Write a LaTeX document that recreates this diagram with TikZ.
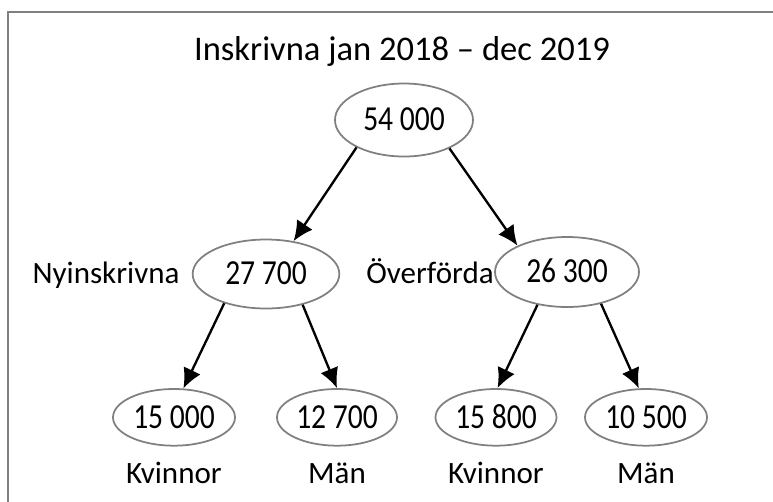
\documentclass[tikz,border=0pt]{standalone}
\usepackage{fontspec}
\setmainfont{Carlito}
\newfontfamily\numfont[FakeStretch=0.84]{Carlito}
\usepackage{tikz}
\usetikzlibrary{shapes.geometric,arrows.meta}

\definecolor{rimgray}{RGB}{128,128,128}

\begin{document}
\begin{tikzpicture}[num/.style={ellipse, draw=rimgray, line width=1.5pt, inner sep=0pt, text height=18.5pt, text depth=0pt, font=\numfont\fontsize{30}{34}\selectfont},
	lbl/.style={inner sep=0pt, anchor=base, font=\fontsize{26.5}{30}\selectfont},
	every edge/.style={draw=black, line width=2pt, -{Latex[length=17pt,width=16pt]}}]
				\useasboundingbox (0,0) rectangle (23.19,-15.03);
				\draw[rimgray, line width=1.2pt] (0.24,-15.1) -- (0.24,-0.36) -- (23.4,-0.36);

				\node[lbl, font=\fontsize{29.5}{34}\selectfont] (title) at (12.06,-1.8) {Inskrivna jan 2018 -- dec 2019};

				\node[num, minimum width=4.14cm, minimum height=2.19cm] (tot) at (12.12,-3.6) {54 000};
				\node[num, minimum width=4.4cm, minimum height=2.07cm] (nyi) at (7.98,-8.22) {27 700};
				\node[num, minimum width=4.32cm, minimum height=2.1cm] (ovf) at (17.01,-8.16) {26 300};
				\node[num, minimum width=3.66cm, minimum height=1.7cm] (nyk) at (5.22,-12.52) {15 000};
				\node[num, minimum width=3.6cm, minimum height=1.7cm] (nym) at (10.11,-12.52) {12 700};
				\node[num, minimum width=3.63cm, minimum height=1.7cm] (ovk) at (14.88,-12.52) {15 800};
				\node[num, minimum width=3.66cm, minimum height=1.7cm] (ovm) at (19.38,-12.52) {10 500};

				\node[lbl] (nyilbl) at (3.18,-8.49) {Nyinskrivna};
				\node[lbl] (ovflbl) at (12.9,-8.49) {Överförda};
				\node[lbl] (nyklbl) at (5.22,-14.49) {Kvinnor};
				\node[lbl] (nymlbl) at (10.11,-14.49) {Män};
				\node[lbl] (ovklbl) at (14.88,-14.49) {Kvinnor};
				\node[lbl] (ovmlbl) at (19.38,-14.49) {Män};

				\path (tot.210) edge (nyi.50);
				\path (tot.328) edge (ovf.152);
				\path (nyi.215) edge (nyk.72);
				\path (nyi.320) edge (nym.90);
				\path (ovf.228) edge (ovk.87);
				\path (ovf.317) edge (ovm.104);
\end{tikzpicture}
\end{document}
